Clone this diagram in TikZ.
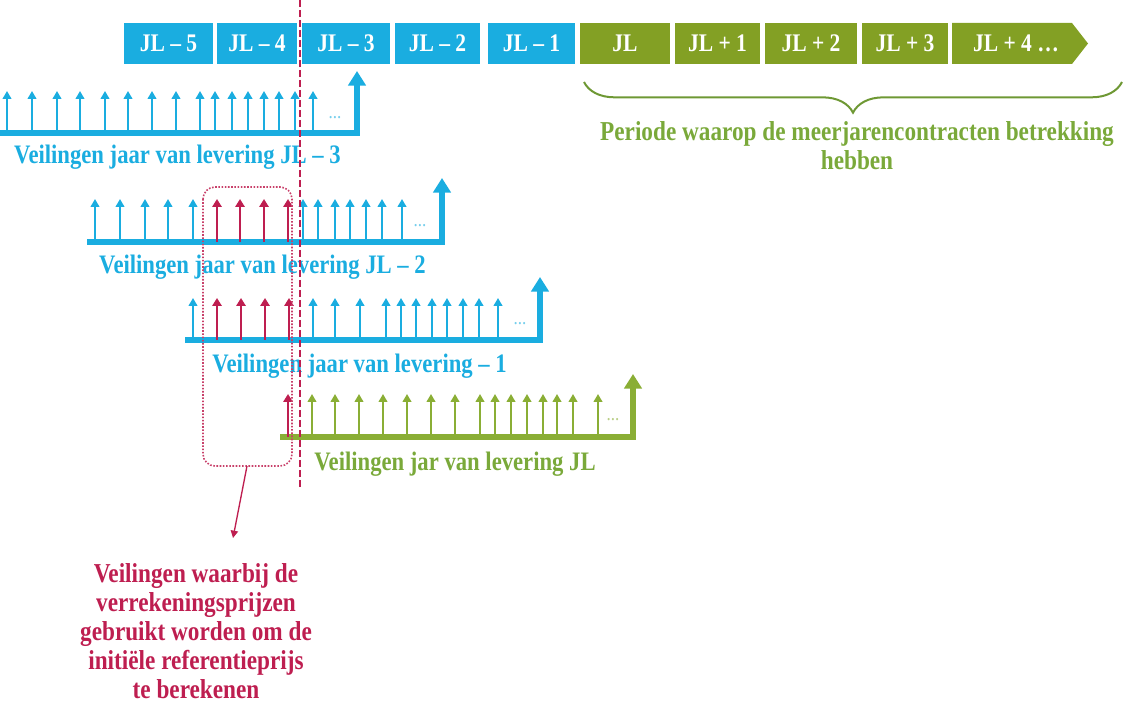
\documentclass[tikz,border=0pt]{standalone}
\usepackage{fontspec}
\setmainfont{Liberation Serif}[FakeStretch=0.85]
\definecolor{cBlue}{HTML}{1AADE0}
\definecolor{cOlive}{HTML}{83A024}
\definecolor{cLime}{HTML}{8AAE35}
\definecolor{cGreen}{HTML}{7AA93A}
\definecolor{cRed}{HTML}{BE1E50}
\usetikzlibrary{arrows.meta, decorations.pathreplacing}

\begin{document}
\begin{tikzpicture}[x=0.75pt, y=-0.75pt,
  yearbox/.style={fill=#1, text=white, minimum height=30.75pt, inner sep=0pt,
                  font=\fontsize{19}{19}\selectfont\bfseries},
  yeartext/.style={text=white, inner sep=0pt, font=\fontsize{19}{19}\selectfont\bfseries},
  base/.style={draw=#1, line width=4.5pt, line join=miter,
               -{Triangle[width=13pt, length=11pt]}},
  tick/.style={draw=#1, line width=1.8pt, -{Triangle[width=6.5pt, length=6pt]}},
  hot/.style={draw=cRed, line width=2.2pt, -{Triangle[width=7pt, length=6pt]}},
  dots/.style={text=#1!60, inner sep=0pt, font=\fontsize{15}{15}\selectfont},
  lbl/.style={text=#1, inner sep=0pt, font=\fontsize{20}{22.1}\selectfont\bfseries},
  cut/.style={draw=cRed, line width=2pt, dash pattern=on 5pt off 2.5pt},
  selbox/.style={draw=cRed!85, line width=1.2pt, dash pattern=on 1.2pt off 1.2pt,
                 rounded corners=9pt},
  pointer/.style={draw=cRed, line width=1pt, -{Triangle[width=5.5pt, length=5.5pt]}}]
  \useasboundingbox (0,0) rectangle (1125,705);

  % year bar
  \foreach \c/\w/\t [count=\i] in {168.5/89/JL – 5, 257/80/JL – 4, 346/88/JL – 3,
                                   437.5/85/JL – 2, 531.5/87/JL – 1}
    \node[yearbox=cBlue, minimum width=\w*0.75pt] (yb\i) at (\c,43.5) {\t};
  \foreach \c/\w/\t [count=\i from 6] in {625/90/JL, 717.5/85/JL + 1, 811/92/JL + 2,
                                          905/86/JL + 3}
    \node[yearbox=cOlive, minimum width=\w*0.75pt] (yb\i) at (\c,43.5) {\t};
  \fill[cOlive] (952,23) -- (1072,23) -- (1088,43.5) -- (1072,64) -- (952,64) -- cycle;
  \node[yeartext] (yb10) at (1016,43.5) {JL + 4 …};

  \coordinate (brL) at (584,82);
  \coordinate (brR) at (1122,82);
  \draw[cGreen!90!black, line width=1.5pt, decorate,
        decoration={brace, mirror, amplitude=23pt}] (brL) -- (brR);
  \node[lbl=cGreen, align=center, anchor=north, font=\fontsize{20.5}{22.1}\selectfont\bfseries]
       (period) at (857,121) {Periode waarop de meerjarencontracten betrekking\\hebben};

  % auctions JL - 3
  \draw[base=cBlue] (0,133) -- (357,133) -- (357,71);
  \foreach \x in {7,32,57,80,105,128,152,176,200,215,232,248,264,279,295,313}
    \draw[tick=cBlue] (\x,133) -- ++(0,-42);
  \node[dots=cBlue] (d1) at (335,118) {...};
  \node[lbl=cBlue, anchor=base] (l1) at (177.5,164) {Veilingen jaar van levering JL – 3};

  % auctions JL - 2
  \draw[base=cBlue] (87,242) -- (442,242) -- (442,178);
  \foreach \x in {95,120,145,168,193,303,318,335,350,366,382,402}
    \draw[tick=cBlue] (\x,242) -- ++(0,-43);
  \foreach \x in {217,240,264,288}
    \draw[hot] (\x,242) -- ++(0,-43);
  \node[dots=cBlue] (d2) at (420,226) {...};
  \node[lbl=cBlue, anchor=base] (l2) at (262.5,274) {Veilingen jaar van levering JL – 2};

  % auctions JL - 1
  \draw[base=cBlue] (185,340) -- (540,340) -- (540,277);
  \foreach \x in {193,313,335,360,386,401,416,432,447,463,479,498}
    \draw[tick=cBlue] (\x,340) -- ++(0,-42);
  \foreach \x in {217,241,265,289}
    \draw[hot] (\x,340) -- ++(0,-42);
  \node[dots=cBlue] (d3) at (520,324) {...};
  \node[lbl=cBlue, anchor=base] (l3) at (359.5,373) {Veilingen jaar van levering – 1};

  % auctions JL
  \draw[base=cLime] (280,437) -- (633,437) -- (633,374);
  \foreach \x in {312,335,359,383,407,431,455,480,495,511,527,543,557,573,598}
    \draw[tick=cLime] (\x,437) -- ++(0,-43);
  \draw[hot] (288,437) -- ++(0,-43);
  \node[dots=cLime] (d4) at (613,420) {...};
  \node[lbl=cGreen, anchor=base] (l4) at (455,471) {Veilingen jar van levering JL};

  % selection
  \coordinate (cutTop) at (300,0);
  \coordinate (cutBot) at (300,487);
  \draw[cut] (cutTop) -- (cutBot);
  \draw[selbox] (203,187) rectangle (292,466);
  \coordinate (selS) at (247,466);
  \coordinate (noteTip) at (233,538);
  \draw[pointer] (selS) -- (noteTip);
  \node[lbl=cRed, align=center, anchor=north, font=\fontsize{20.5}{21.8}\selectfont\bfseries]
       (note) at (196,563)
       {Veilingen waarbij de\\verrekeningsprijzen\\gebruikt worden om de\\initiële referentieprijs\\te berekenen};
\end{tikzpicture}
\end{document}
